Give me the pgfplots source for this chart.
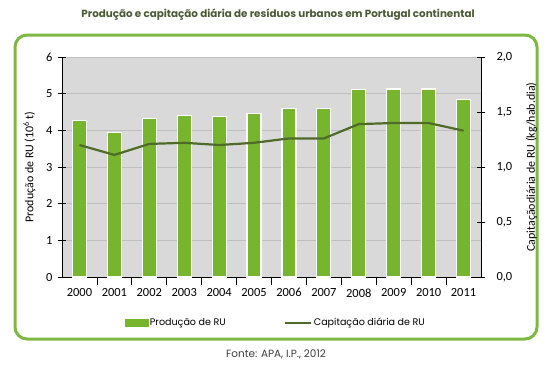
\documentclass[border=0pt]{standalone}
\usepackage{pgfplots}
\pgfplotsset{compat=1.18}
\usepackage{fontspec}
\setmainfont{Carlito}
\newfontfamily\gothic{Poppins}
\definecolor{barg}{HTML}{78B52E}
\definecolor{lineg}{HTML}{4E6B28}
\definecolor{frameg}{HTML}{7DB843}
\definecolor{bgg}{HTML}{D9D9D9}
\definecolor{gridg}{HTML}{BFBFBF}
\definecolor{titleg}{HTML}{4A5A36}
\begin{document}
\begin{tikzpicture}[x=1bp,y=1bp]
\useasboundingbox (0,0) rectangle (548,-368);
\node[font=\gothic\bfseries\fontsize{10.4}{12}\selectfont, text=titleg] at (278,-15) {Produção e capitação diária de resíduos urbanos em Portugal continental};
\draw[frameg, line width=3bp, rounded corners=12bp] (15,-35) rectangle (537,-339);
\node[font=\gothic\fontsize{10.5}{12}\selectfont, text=black!75] at (276,-354) {Fonte: APA, I.P., 2012};
\begin{axis}[at={(62bp,-277bp)}, anchor=south west, width=419bp, height=220bp, scale only axis,
  xmin=-0.5, xmax=11.5, ymin=0, ymax=6,
  axis background/.style={fill=bgg},
  axis x line*=bottom, axis y line*=left,
  axis line style={black, line width=0.8bp},
  ymajorgrids, major grid style={gridg, line width=0.8bp},
  ytick={0,...,6},
  xtick={0.5,1.5,...,10.5}, xticklabels={},
  extra x ticks={0,...,11},
  extra x tick labels={2000,2001,2002,2003,2004,2005,2006,2007,2008,2009,2010,2011},
  extra x tick style={major tick length=0pt, grid=none, xticklabel style={yshift=-8bp}},
  tick align=center, major tick length=8bp,
  tick style={black, line width=0.8bp},
  ticklabel style={font=\fontsize{12.5}{14}\selectfont},
  yticklabel style={xshift=-2bp},
  /pgf/number format/assume math mode=true,
  ylabel={Produção de RU (10\textsuperscript{6} t)},
  ylabel style={font=\fontsize{12}{14}\selectfont, yshift=4bp},
  ybar, bar width=14bp,
  clip=false,
]
\addplot[fill=barg, draw=white, line width=1.2bp] coordinates {
(0,4.27) (1,3.95) (2,4.32) (3,4.41) (4,4.38) (5,4.45) (6,4.59) (7,4.60) (8,5.11) (9,5.13) (10,5.13) (11,4.84)};
\end{axis}
\begin{axis}[at={(62bp,-277bp)}, anchor=south west, width=419bp, height=220bp, scale only axis,
  xmin=-0.5, xmax=11.5, ymin=0, ymax=2,
  axis x line=none, axis y line*=right,
  axis line style={black, line width=0.8bp},
  ytick={0,0.5,...,2},
  tick align=center, major tick length=8bp,
  tick style={black, line width=0.8bp},
  ticklabel style={font=\fontsize{12.5}{14}\selectfont},
  yticklabel style={xshift=8bp},
  /pgf/number format/.cd, fixed, fixed zerofill, precision=1, use comma, assume math mode=true,
  /pgfplots/.cd,
  ylabel={Capitaçãodiária de RU (kg/hab.dia)},
  ylabel style={font=\fontsize{12}{14}\selectfont, yshift=-7bp},
  legend columns=2,
  legend style={at={(0.51,-0.209)}, anchor=center, draw=none, fill=none,
    font=\gothic\fontsize{9.6}{12}\selectfont,
    /tikz/every even column/.append style={column sep=56bp}},
  clip=false,
]
\addlegendimage{legend image code/.code={\fill[barg] (0bp,-3.5bp) rectangle (23bp,3.5bp);}}
\addlegendentry{Produção de RU}
\addplot[lineg, line width=2.2bp, legend image code/.code={\draw[lineg, line width=2bp] (0bp,0bp) -- (26bp,0bp);}] coordinates {
(0,1.20) (1,1.11) (2,1.21) (3,1.22) (4,1.20) (5,1.22) (6,1.26) (7,1.26) (8,1.39) (9,1.40) (10,1.40) (11,1.33)};
\addlegendentry{Capitação diária de RU}
\end{axis}
\end{tikzpicture}
\end{document}
